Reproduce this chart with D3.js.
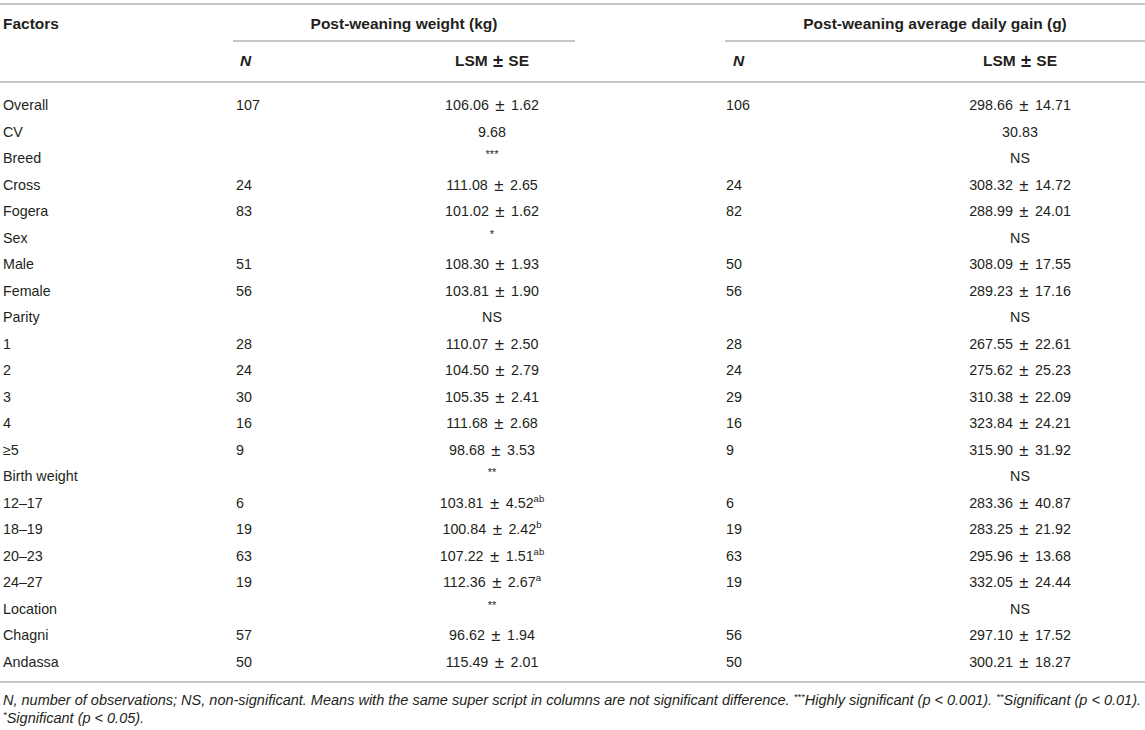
<!DOCTYPE html>
<html>
<head>
<meta charset="utf-8">
<script src="https://cdn.jsdelivr.net/npm/d3@7"></script>
<style>
  body { margin: 0; background: #fff; }
  svg { display: block; font-family: "Liberation Sans", Arial, Helvetica, sans-serif; }
</style>
</head>
<body>
<svg width="1145" height="730"></svg>
<script>
// table data
const factors = ["Overall", "CV", "Breed", "Cross", "Fogera", "Sex", "Male", "Female", "Parity",
  "1", "2", "3", "4", "\u22655", "Birth weight", "12\u201317", "18\u201319", "20\u201323", "24\u201327",
  "Location", "Chagni", "Andassa"];
const weightN = ["107", "", "", "24", "83", "", "51", "56", "", "28", "24", "30", "16", "9", "",
  "6", "19", "63", "19", "", "57", "50"];
const weightLsm = ["106.06 \u00b1 1.62", "9.68", "***", "111.08 \u00b1 2.65", "101.02 \u00b1 1.62", "*",
  "108.30 \u00b1 1.93", "103.81 \u00b1 1.90", "NS", "110.07 \u00b1 2.50", "104.50 \u00b1 2.79",
  "105.35 \u00b1 2.41", "111.68 \u00b1 2.68", "98.68 \u00b1 3.53", "**", "103.81 \u00b1 4.52",
  "100.84 \u00b1 2.42", "107.22 \u00b1 1.51", "112.36 \u00b1 2.67", "**", "96.62 \u00b1 1.94",
  "115.49 \u00b1 2.01"];
const weightSup = ["", "", "", "", "", "", "", "", "", "", "", "", "", "", "",
  "ab", "b", "ab", "a", "", "", ""];
const gainN = ["106", "", "", "24", "82", "", "50", "56", "", "28", "24", "29", "16", "9", "",
  "6", "19", "63", "19", "", "56", "50"];
const gainLsm = ["298.66 \u00b1 14.71", "30.83", "NS", "308.32 \u00b1 14.72", "288.99 \u00b1 24.01", "NS",
  "308.09 \u00b1 17.55", "289.23 \u00b1 17.16", "NS", "267.55 \u00b1 22.61", "275.62 \u00b1 25.23",
  "310.38 \u00b1 22.09", "323.84 \u00b1 24.21", "315.90 \u00b1 31.92", "NS", "283.36 \u00b1 40.87",
  "283.25 \u00b1 21.92", "295.96 \u00b1 13.68", "332.05 \u00b1 24.44", "NS", "297.10 \u00b1 17.52",
  "300.21 \u00b1 18.27"];
const groupTitles = ["Post-weaning weight (kg)", "Post-weaning average daily gain (g)"];

const svg = d3.select("svg");
const ink = "#231f20";
const rule = "#b3b3b3";

// row positions
const y = d3.scalePoint().domain(d3.range(factors.length)).range([105, 662]);

// column anchors
const col = { factor: 3, n1: 236, lsm1: 492, n2: 726, lsm2: 1020 };
const groups = [{ x0: 233, x1: 575 }, { x0: 725, x1: 1145 }];

function hline(x0, x1, yy) {
  svg.append("line").attr("x1", x0).attr("x2", x1).attr("y1", yy).attr("y2", yy)
     .attr("stroke", rule).attr("stroke-width", 1.6);
}

// rules
hline(0, 1145, 4);
groups.forEach(g => hline(g.x0, g.x1, 41));
hline(0, 1145, 82);
hline(0, 1145, 682);

// write "a ± b" with a slightly larger plus-minus sign
function plusMinus(t, v) {
  const parts = v.split(" \u00b1 ");
  t.append("tspan").text(parts[0] + " ");
  t.append("tspan").attr("font-size", "1.18em").text("\u00b1");
  t.append("tspan").text(" " + parts[1]);
}

// header
const head = svg.append("g").attr("fill", ink).attr("font-size", 15.5).attr("font-weight", "bold")
  .attr("dominant-baseline", "central");
head.append("text").attr("x", col.factor).attr("y", 23).text("Factors");
groups.forEach((g, i) => {
  head.append("text").attr("x", (g.x0 + g.x1) / 2).attr("y", 23)
      .attr("text-anchor", "middle").text(groupTitles[i]);
});
[col.n1 + 4, col.n2 + 7].forEach(x => {
  head.append("text").attr("x", x).attr("y", 60).attr("font-style", "italic").text("N");
});
[col.lsm1, col.lsm2].forEach(x => {
  const t = head.append("text").attr("x", x).attr("y", 60).attr("text-anchor", "middle")
      .attr("word-spacing", 1);
  plusMinus(t, "LSM \u00b1 SE");
});

// body
const body = svg.append("g").attr("fill", ink).attr("font-size", 14.3).attr("dominant-baseline", "central");
const rows = body.selectAll("g.row").data(factors).join("g").attr("class", "row")
  .attr("transform", (d, i) => `translate(0,${y(i)})`);

rows.append("text").attr("x", col.factor).text(d => d);
rows.append("text").attr("x", col.n1).text((d, i) => weightN[i]);
rows.append("text").attr("x", col.n2).text((d, i) => gainN[i]);

function lsmCell(sel, x, values, sups) {
  sel.each(function(d, i) {
    const v = values[i];
    const t = d3.select(this).append("text").attr("x", x).attr("text-anchor", "middle");
    if (/^\*+$/.test(v)) {
      t.attr("font-size", 11).attr("y", -4).text(v);
    } else if (v.includes("\u00b1")) {
      t.attr("word-spacing", 2.5);
      plusMinus(t, v);
      if (sups && sups[i]) {
        t.append("tspan").attr("font-size", 9.5).attr("dy", -5).text(sups[i]);
      }
    } else {
      t.text(v);
    }
  });
}
lsmCell(rows, col.lsm1, weightLsm, weightSup);
lsmCell(rows, col.lsm2, gainLsm, null);

// footnote
const foot = svg.append("g").attr("fill", ink).attr("font-size", 14.5).attr("font-style", "italic")
  .attr("dominant-baseline", "central");
const f1 = foot.append("text").attr("x", 3).attr("y", 700);
f1.append("tspan").text("N, number of observations; NS, non-significant. Means with the same super script in columns are not significant difference. ");
f1.append("tspan").attr("font-size", 9.5).attr("dy", -4).text("***");
f1.append("tspan").attr("dy", 4).text("Highly significant (p < 0.001). ");
f1.append("tspan").attr("font-size", 9.5).attr("dy", -4).text("**");
f1.append("tspan").attr("dy", 4).text("Significant (p < 0.01).");
const f2 = foot.append("text").attr("x", 3).attr("y", 718);
f2.append("tspan").attr("font-size", 9.5).attr("dy", -4).text("*");
f2.append("tspan").attr("dy", 4).text("Significant (p < 0.05).");
</script>
</body>
</html>
